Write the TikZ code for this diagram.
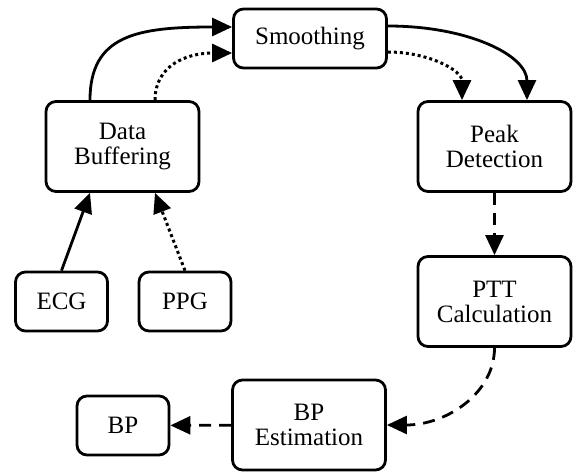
\documentclass[tikz,border=0pt]{standalone}
\usepackage{fontspec}
\setmainfont{Liberation Serif}
\usetikzlibrary{arrows.meta}

\begin{document}
\begin{tikzpicture}[x=1pt,y=1pt,
	box/.style={draw,line width=2.8pt,rounded corners=10pt,align=center,inner sep=0pt,
		font=\fontsize{25}{25}\selectfont},
	bigbox/.style={box,minimum width=153pt,minimum height=90pt},
	smallbox/.style={box,minimum width=92pt,minimum height=59pt},
	link/.style={line width=2.8pt,-{Triangle[length=20pt,width=18pt]}},
	dotlink/.style={link,line width=3pt,dash pattern=on 3pt off 3pt},
	dashlink/.style={link,dash pattern=on 12pt off 8pt}]

\useasboundingbox (0,0) rectangle (574,472);

\node[box,minimum width=153pt,minimum height=59pt] (smooth) at (310,433.5) {Smoothing};
\node[bigbox] (buffer) at (122.5,325.5) {Data\\Buffering};
\node[bigbox] (peak) at (494.5,325.5) {Peak\\Detection};
\node[bigbox] (ptt) at (494.5,170.5) {PTT\\Calculation};
\node[bigbox] (est) at (309,47) {BP\\Estimation};
\node[smallbox] (ecg) at (61.5,170.5) {ECG};
\node[smallbox] (ppg) at (185,170.5) {PPG};
\node[smallbox] (bp) at (123,46.5) {BP};

\draw[link] ([xshift=-32.5pt]buffer.north) to[out=90,in=180,out distance=65pt,in distance=95pt] ([yshift=11.5pt]smooth.west);
\draw[dotlink] ([xshift=32.5pt]buffer.north) to[out=90,in=180,out distance=35pt,in distance=45pt] ([yshift=-14.5pt]smooth.west);
\draw[link] ([yshift=12.5pt]smooth.east) to[out=0,in=90,out distance=80pt,in distance=45pt] ([xshift=32.5pt]peak.north);
\draw[dotlink] ([yshift=-13.5pt]smooth.east) to[out=0,in=90,out distance=40pt,in distance=30pt] ([xshift=-32.5pt]peak.north);

\draw[dashlink] (peak) -- (ptt);
\draw[dashlink] (ptt.south) to[out=-90,in=0,out distance=45pt,in distance=60pt] (est.east);
\draw[dashlink] (est) -- (bp);

\draw[link] (ecg.north) -- ([xshift=-32.5pt]buffer.south);
\draw[dotlink] (ppg.north) -- ([xshift=32.5pt]buffer.south);

\end{tikzpicture}
\end{document}
